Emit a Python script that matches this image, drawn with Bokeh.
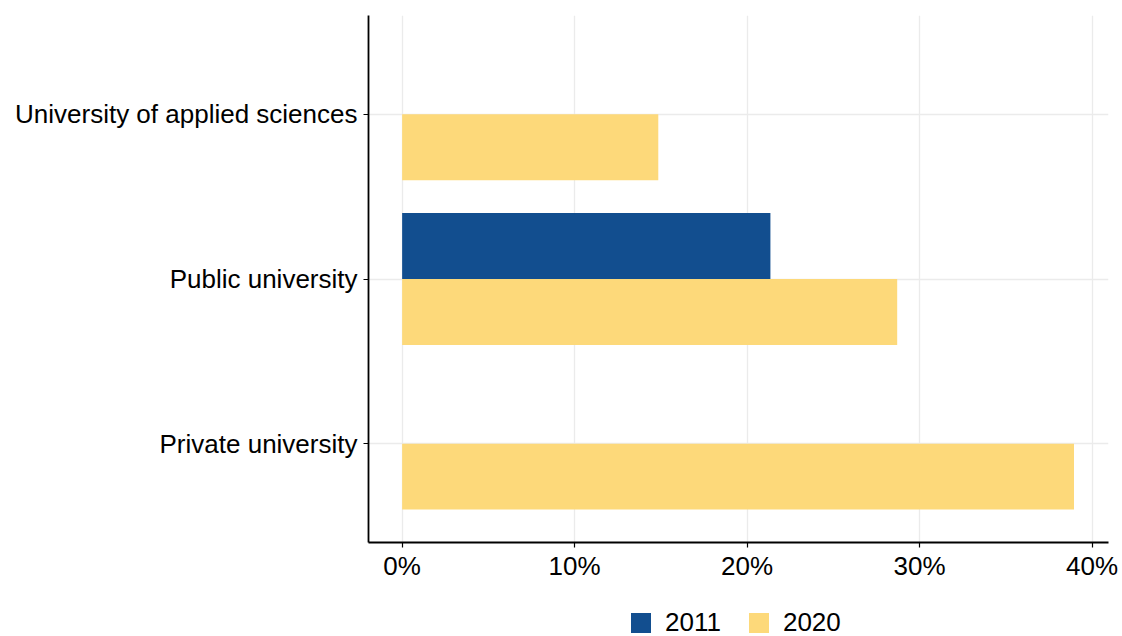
from bokeh.plotting import figure
from bokeh.layouts import column
from bokeh.models import (ColumnDataSource, FactorRange, Range1d, FixedTicker,
                          PrintfTickFormatter, Legend, LegendItem)
from bokeh.transform import dodge
from bokeh.embed import file_html
from bokeh.resources import INLINE

# ---- data ----
categories = ["Private university", "Public university", "University of applied sciences"]
years = ["2011", "2020"]
share_2011 = [None, 21.35, None]
share_2020 = [38.95, 28.7, 14.85]
x_ticks = [0, 10, 20, 30, 40]

colors = {"2011": "#124E8F", "2020": "#FDD97A"}

FONT = "Liberation Sans"
FS = "26px"

p = figure(
    width=1118, height=590,
    y_range=FactorRange(factors=categories, range_padding=0.1, range_padding_units="absolute"),
    x_range=Range1d(-1.95, 40.95),
    output_backend="svg", toolbar_location=None,
    min_border_left=368, min_border_right=10, min_border_top=15, min_border_bottom=48,
)
p.outline_line_color = None
p.background_fill_color = "white"
p.border_fill_color = "white"

def make_source(vals):
    cats = [c for c, v in zip(categories, vals) if v is not None]
    vv = [v for v in vals if v is not None]
    return ColumnDataSource(dict(cat=cats, val=vv))

src11 = make_source(share_2011)
src20 = make_source(share_2020)

p.hbar(y=dodge("cat", 0.2, range=p.y_range), right="val", left=0, height=0.4,
       source=src11, fill_color=colors["2011"], line_color=None)
p.hbar(y=dodge("cat", -0.2, range=p.y_range), right="val", left=0, height=0.4,
       source=src20, fill_color=colors["2020"], line_color=None)

# axes
p.xaxis.ticker = FixedTicker(ticks=x_ticks)
p.xaxis.formatter = PrintfTickFormatter(format="%d%%")
for ax in (p.xaxis[0], p.yaxis[0]):
    ax.axis_line_color = "black"
    ax.axis_line_width = 1.8
    ax.major_tick_line_color = "black"
    ax.major_tick_line_width = 1.2
    ax.major_tick_out = 5
    ax.major_tick_in = 0
    ax.minor_tick_line_color = None
    ax.major_label_text_font = FONT
    ax.major_label_text_font_size = FS
    ax.major_label_text_color = "black"
p.xaxis.major_label_standoff = 3
p.yaxis.major_label_standoff = 6

# grid
p.xgrid.grid_line_color = "#EBEBEB"
p.xgrid.grid_line_width = 1.3
p.ygrid.grid_line_color = "#EBEBEB"
p.ygrid.grid_line_width = 1.3
p.xgrid.ticker = FixedTicker(ticks=x_ticks)

# ---- legend strip below the plot (frame aligned with the main plot's frame) ----
p2 = figure(width=1118, height=46, x_range=Range1d(0, 1), y_range=Range1d(0, 1),
            x_axis_type=None, y_axis_type=None, output_backend="svg",
            toolbar_location=None, min_border=0)
p2.outline_line_color = None
p2.grid.visible = False
p2.background_fill_color = "white"
p2.border_fill_color = "white"
nan = float("nan")
proxy = dict(y=[nan], right=[nan])
lr11 = p2.hbar(y="y", right="right", left=0, height=0.4, source=ColumnDataSource(proxy),
               fill_color=colors["2011"], line_color=None)
lr20 = p2.hbar(y="y", right="right", left=0, height=0.4, source=ColumnDataSource(dict(proxy)),
               fill_color=colors["2020"], line_color=None)

legend = Legend(
    items=[LegendItem(label=years[0], renderers=[lr11]),
           LegendItem(label=years[1], renderers=[lr20])],
    orientation="horizontal",
    location=(260, -2),
    glyph_width=25, glyph_height=25,
    label_standoff=12, spacing=25, padding=0, margin=0,
    border_line_color=None, background_fill_alpha=0,
    label_text_font=FONT, label_text_font_size=FS, label_text_color="black",
)
p2.add_layout(legend, "center")

layout = column(p, p2, spacing=0)
open("out.html", "w").write(file_html(layout, INLINE))
